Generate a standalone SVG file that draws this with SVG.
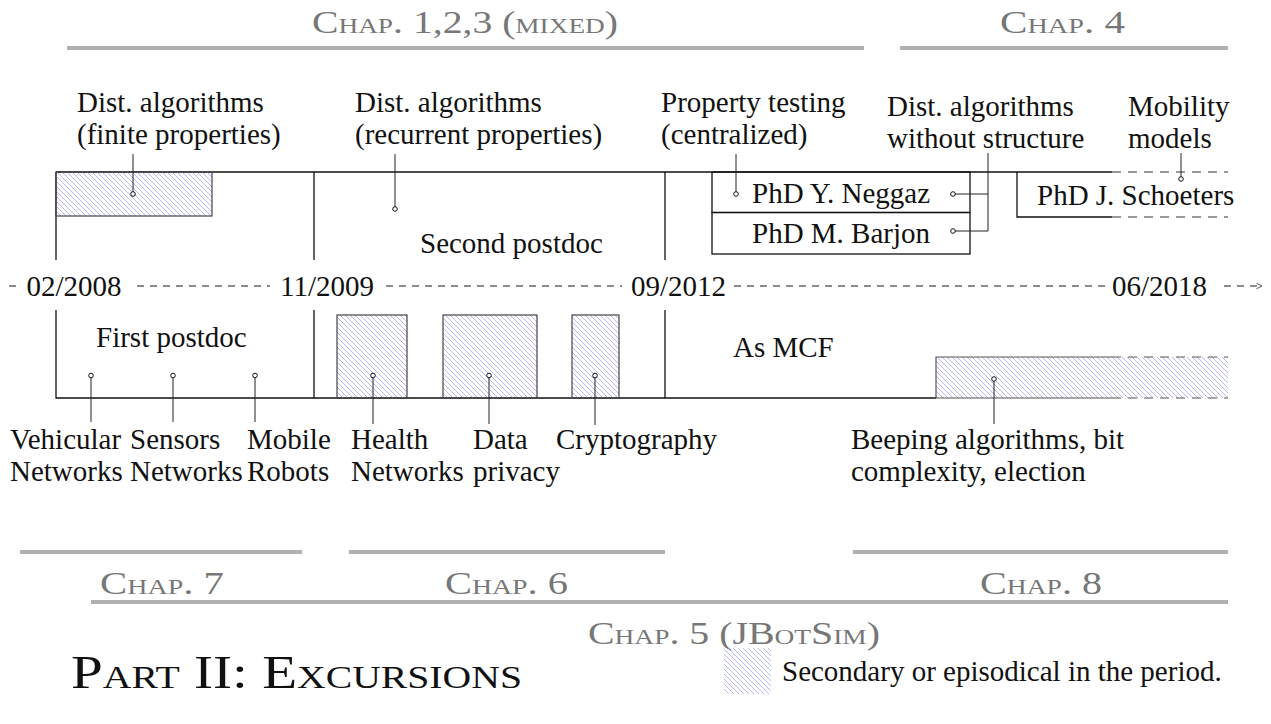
<svg xmlns="http://www.w3.org/2000/svg" width="1271" height="724" viewBox="0 0 1271 724">
<defs>
  <pattern id="hatch" patternUnits="userSpaceOnUse" width="5" height="5">
    <path d="M-1,-1 L6,6 M-1,4 L1,6 M4,-1 L6,1" stroke="#a3a3f2" stroke-width="0.8" fill="none"/>
  </pattern>
  <marker id="arr" viewBox="0 0 10 10" refX="9" refY="5" markerWidth="7" markerHeight="7" markerUnits="userSpaceOnUse" orient="auto">
    <path d="M1,1 L9,5 L1,9" fill="none" stroke="#555" stroke-width="1.4"/>
  </marker>
</defs>
<style>
  text { font-family: "Liberation Serif", "Times New Roman", serif; font-size: 29px; fill: #111; }
  .chap { fill: #777; font-variant: small-caps; font-size: 32px; }
  .part { font-variant: small-caps; font-size: 46px; fill: #111; }
  .bar { stroke: #b0b0b0; stroke-width: 4; fill: none; }
  .ln { stroke: #111; stroke-width: 1.3; fill: none; }
  .ld { stroke: #333; stroke-width: 1.2; fill: none; stroke-dasharray: 9 7; }
  .conn { stroke: #222; stroke-width: 1; fill: none; }
  .dot { fill: #fff; stroke: #111; stroke-width: 1; }
  .tl { stroke: #666; stroke-width: 1.3; fill: none; stroke-dasharray: 7 6; }
  .hb { fill: url(#hatch); stroke: #444; stroke-width: 1.2; }
  .hf { fill: url(#hatch); stroke: none; }
  .ge { stroke: #555; stroke-width: 1.2; fill: none; }
  .gd { stroke: #555; stroke-width: 1.2; fill: none; stroke-dasharray: 9 7; }
</style>

<!-- chapter bars -->
<g id="chapters">
  <line class="bar" x1="67" y1="48" x2="864" y2="48"/>
  <text class="chap" x="312" y="33" textLength="306" lengthAdjust="spacingAndGlyphs">Chap. 1,2,3 (mixed)</text>
  <line class="bar" x1="900" y1="48" x2="1228" y2="48"/>
  <text class="chap" x="1000" y="33" textLength="125" lengthAdjust="spacingAndGlyphs">Chap. 4</text>
  <line class="bar" x1="20" y1="552" x2="302" y2="552"/>
  <text class="chap" x="100" y="594" textLength="124" lengthAdjust="spacingAndGlyphs">Chap. 7</text>
  <line class="bar" x1="349" y1="552" x2="665" y2="552"/>
  <text class="chap" x="445" y="594" textLength="123" lengthAdjust="spacingAndGlyphs">Chap. 6</text>
  <line class="bar" x1="853" y1="552" x2="1228" y2="552"/>
  <text class="chap" x="980" y="594" textLength="122" lengthAdjust="spacingAndGlyphs">Chap. 8</text>
  <line class="bar" x1="91" y1="602" x2="1228" y2="602"/>
  <text class="chap" x="588" y="644" textLength="292" lengthAdjust="spacingAndGlyphs">Chap. 5 (JBotSim)</text>
</g>

<!-- timeline -->
<g id="timeline">
  <path class="tl" d="M9,286 H19 M137,286 H270 M386,286 H622 M734,286 H1105"/>
  <path class="tl" d="M1224,286 H1262" marker-end="url(#arr)"/>
  <text x="26.5" y="296">02/2008</text>
  <text x="280" y="296">11/2009</text>
  <text x="631" y="296">09/2012</text>
  <text x="1112" y="296">06/2018</text>
</g>

<!-- period frames -->
<g id="first-postdoc">
  <path class="ln" d="M56,172 V260 M56,310 V398 H314"/>
  <text x="96" y="347">First postdoc</text>
</g>
<g id="second-postdoc">
  <path class="ln" d="M56,172 H665 M314,172 V260 M314,310 V398 H665"/>
  <text x="420" y="253">Second postdoc</text>
</g>
<g id="mcf">
  <path class="ln" d="M665,172 H1112 M665,172 V260 M665,310 V398 H936"/>
  <path class="ld" d="M1112,172 H1228"/>
  <text x="733" y="357">As MCF</text>
</g>

<!-- upper topics -->
<g id="finite">
  <rect class="hb" x="56" y="172" width="156" height="44"/>
  <text x="77" y="112">Dist. algorithms</text>
  <text x="77" y="144">(finite properties)</text>
</g>
<g id="recurrent">
  <text x="355" y="112">Dist. algorithms</text>
  <text x="355" y="144">(recurrent properties)</text>
</g>
<g id="property-testing">
  <text x="661" y="112">Property testing</text>
  <text x="661" y="144">(centralized)</text>
</g>
<g id="neggaz">
  <rect class="ln" x="712" y="172" width="258" height="40.5"/>
  <text x="752" y="203">PhD Y. Neggaz</text>
</g>
<g id="barjon">
  <rect class="ln" x="712" y="212.5" width="258" height="41.5"/>
  <text x="752" y="243">PhD M. Barjon</text>
</g>
<g id="without-structure">
  <text x="887" y="116">Dist. algorithms</text>
  <text x="887" y="148">without structure</text>
</g>
<g id="schoeters">
  <path class="ln" d="M1017,172 V217 H1112"/>
  <path class="ld" d="M1112,217 H1228"/>
  <text x="1037" y="205">PhD J. Schoeters</text>
</g>
<g id="mobility">
  <text x="1128" y="116">Mobility</text>
  <text x="1128" y="148">models</text>
</g>

<!-- lower topics -->
<g id="vehicular">
  <text x="10" y="449">Vehicular</text>
  <text x="10" y="481">Networks</text>
</g>
<g id="sensors">
  <text x="130" y="449">Sensors</text>
  <text x="130" y="481">Networks</text>
</g>
<g id="robots">
  <text x="247" y="449">Mobile</text>
  <text x="247" y="481">Robots</text>
</g>
<g id="health">
  <rect class="hb" x="337" y="315" width="70" height="83"/>
  <text x="351" y="449">Health</text>
  <text x="351" y="481">Networks</text>
</g>
<g id="privacy">
  <rect class="hb" x="443" y="315" width="94" height="83"/>
  <text x="473" y="449">Data</text>
  <text x="473" y="481">privacy</text>
</g>
<g id="crypto">
  <rect class="hb" x="572" y="315" width="47" height="83"/>
  <text x="556" y="449">Cryptography</text>
</g>
<g id="beeping">
  <rect class="hf" x="936" y="357" width="292" height="41"/>
  <path class="ge" d="M1112,357 H936 V398 H1112"/>
  <path class="gd" d="M1112,357 H1228 M1112,398 H1228"/>
  <text x="851" y="449">Beeping algorithms, bit</text>
  <text x="851" y="481">complexity, election</text>
</g>

<!-- connectors -->
<g id="connectors">
  <path class="conn" d="M133,154 V192 M395,154 V207 M736,154 V192 M955,194 H988 M955,231 H988 M988,153 V231 M1181,153 V177 M91,378 V422 M173,378 V422 M255,378 V422 M373,378 V424 M489,378 V424 M595,378 V425 M994,381 V424"/>
  <circle class="dot" cx="133" cy="194" r="2.3"/>
  <circle class="dot" cx="395" cy="209" r="2.3"/>
  <circle class="dot" cx="736" cy="194" r="2.3"/>
  <circle class="dot" cx="953" cy="194" r="2.3"/>
  <circle class="dot" cx="953" cy="231" r="2.3"/>
  <circle class="dot" cx="1181" cy="179" r="2.3"/>
  <circle class="dot" cx="91" cy="375.5" r="2.3"/>
  <circle class="dot" cx="173" cy="375.5" r="2.3"/>
  <circle class="dot" cx="255" cy="375.5" r="2.3"/>
  <circle class="dot" cx="373" cy="375.5" r="2.3"/>
  <circle class="dot" cx="489" cy="375.5" r="2.3"/>
  <circle class="dot" cx="595" cy="375.5" r="2.3"/>
  <circle class="dot" cx="994" cy="379" r="2.3"/>
</g>

<!-- title and legend -->
<g id="title">
  <text class="part" x="71" y="688" textLength="451" lengthAdjust="spacingAndGlyphs">Part II: Excursions</text>
</g>
<g id="legend">
  <rect class="hf" x="724" y="648" width="47" height="46"/>
  <text x="782" y="681">Secondary or episodical in the period.</text>
</g>
</svg>
